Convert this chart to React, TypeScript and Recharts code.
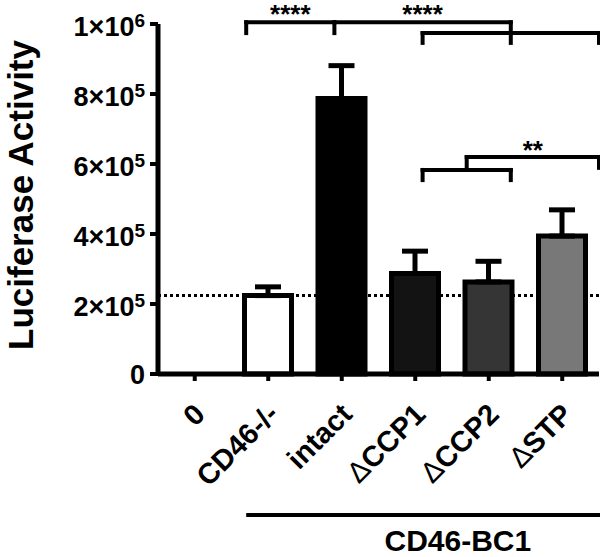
import {
  Bar,
  BarChart,
  Cell,
  ErrorBar,
  ReferenceDot,
  ReferenceLine,
  XAxis,
  YAxis,
} from "recharts"

// ─── Data ──────────────────────────────────────────────────────────────────

const categories = ["0", "CD46-/-", "intact", "ΔCCP1", "ΔCCP2", "ΔSTP"]
const means = [0, 224000, 787000, 287000, 263000, 394000]
const errUp = [0, 25000, 94000, 64000, 59000, 75000]

const yTicks = [0, 200000, 400000, 600000, 800000, 1000000]
const yTickBase = ["0", "2×10", "4×10", "6×10", "8×10", "1×10"]
const yTickExp = ["", "5", "5", "5", "5", "6"]

// significance marks: label, x (category index), y (value)
const sigLabels = ["****", "****", "**"]
const sigX = [1.5, 3, 4.25]
const sigY = [1045000, 1045000, 657000]

// bracket polylines in (category index, value) units
const brackets: [number, number][][] = [
  [[1, 974000], [1, 1005000], [2, 1005000], [2, 974000]],
  [[2, 1005000], [4, 1005000], [4, 946000]],
  [[3, 946000], [3, 974000], [5, 974000], [5, 946000]],
  [[3, 554000], [3, 583000], [4, 583000], [4, 554000]],
  [[3.5, 583000], [3.5, 620000], [5, 620000], [5, 589000]],
]

const groupLabel = "CD46-BC1"

const barFills = ["#ffffff", "#ffffff", "#000000", "#131313", "#353535", "#787878"]

const data = categories.map((name, i) => ({
  name,
  value: means[i],
  err: [0, errUp[i]],
}))

const FONT = "'Liberation Sans', Arial, Helvetica, sans-serif"

// ─── Ticks ─────────────────────────────────────────────────────────────────

function ValueTick(props: { x?: number; y?: number; payload?: { value: number } }) {
  const { x = 0, y = 0, payload } = props
  if (!payload) return null
  const i = yTicks.indexOf(payload.value)
  const exp = yTickExp[i]
  return (
    <text
      x={x}
      y={y}
      dy={exp ? 12 : 10}
      textAnchor="end"
      fontFamily={FONT}
      fontWeight="bold"
      fontSize={27}
      fill="#000"
    >
      {yTickBase[i]}
      {exp ? (
        <tspan dy={-9} fontSize={19}>
          {exp}
        </tspan>
      ) : null}
    </text>
  )
}

function CategoryTick(props: { x?: number; y?: number; payload?: { value: string } }) {
  const { x = 0, y = 0, payload } = props
  if (!payload) return null
  const label = payload.value
  const hasDelta = label.startsWith("Δ")
  return (
    <text
      transform={`translate(${x + 12},${y + 35}) rotate(-45)`}
      textAnchor="end"
      fontFamily={FONT}
      fontWeight="bold"
      fontSize={29}
      fill="#000"
    >
      {hasDelta ? (
        <>
          <tspan fontWeight="normal">Δ</tspan>
          {label.slice(1)}
        </>
      ) : (
        label
      )}
    </text>
  )
}

// ─── Chart ─────────────────────────────────────────────────────────────────

export default function App() {
  return (
    <div style={{ position: "absolute", left: 0, top: 0, background: "#fff" }}>
      <BarChart
        width={600}
        height={557}
        data={data}
        margin={{ top: 24, right: 1, bottom: 0, left: 0 }}
        barCategoryGap={0}
      >
        <XAxis
          dataKey="name"
          interval={0}
          height={183}
          tickSize={7}
          tickMargin={0}
          axisLine={{ stroke: "#000", strokeWidth: 5 }}
          tickLine={{ stroke: "#000", strokeWidth: 4 }}
          tick={<CategoryTick />}
        />
        <XAxis xAxisId="num" type="number" domain={[-0.5, 5.5]} hide />
        <YAxis
          width={158}
          domain={[0, 1000000]}
          ticks={yTicks}
          interval={0}
          tickSize={8}
          tickMargin={5}
          axisLine={{ stroke: "#000", strokeWidth: 5 }}
          tickLine={{ stroke: "#000", strokeWidth: 4 }}
          tick={<ValueTick />}
          label={{
            value: "Luciferase Activity",
            position: "insideLeft",
            content: () => (
              <text
                transform="translate(33,195) rotate(-90)"
                textAnchor="middle"
                fontFamily={FONT}
                fontWeight="bold"
                fontSize={35}
                fill="#000"
              >
                Luciferase Activity
              </text>
            ),
          }}
        />

        {/* dotted baseline at the CD46-/- level, kept behind the bars */}
        <ReferenceLine
          y={means[1]}
          stroke="#000"
          strokeWidth={3}
          strokeDasharray="3 3"
          zIndex={250}
        />

        <Bar dataKey="value" barSize={47} stroke="#000" strokeWidth={5} isAnimationActive={false}>
          {data.map((d, i) => (
            <Cell key={d.name} fill={barFills[i]} />
          ))}
          <ErrorBar
            dataKey="err"
            direction="y"
            width={13}
            stroke="#000"
            strokeWidth={5}
            isAnimationActive={false}
          />
        </Bar>

        {brackets.flatMap((pts, b) =>
          pts.slice(1).map((p, k) => (
            <ReferenceLine
              key={`br-${b}-${k}`}
              xAxisId="num"
              ifOverflow="visible"
              segment={[
                { x: pts[k][0], y: pts[k][1] },
                { x: p[0], y: p[1] },
              ]}
              stroke="#000"
              strokeWidth={4}
              strokeLinecap="square"
            />
          ))
        )}

        {sigLabels.map((s, i) => (
          <ReferenceDot
            key={`sig-${i}`}
            xAxisId="num"
            x={sigX[i]}
            y={sigY[i]}
            ifOverflow="visible"
            shape={(p: { cx?: number; cy?: number }) => (
              <text
                x={p.cx}
                y={p.cy}
                dy={15}
                textAnchor="middle"
                fontFamily={FONT}
                fontWeight="bold"
                fontSize={26}
                fill="#000"
              >
                {s}
              </text>
            )}
          />
        ))}

        {/* group bar under the CD46-BC1 conditions */}
        <ReferenceLine
          xAxisId="num"
          ifOverflow="visible"
          segment={[
            { x: 1, y: -403000 },
            { x: 5.5, y: -403000 },
          ]}
          stroke="#000"
          strokeWidth={4}
        />
        <ReferenceDot
          xAxisId="num"
          x={3.4}
          y={-505000}
          ifOverflow="visible"
          shape={(p: { cx?: number; cy?: number }) => (
            <text
              x={p.cx}
              y={p.cy}
              textAnchor="middle"
              fontFamily={FONT}
              fontWeight="bold"
              fontSize={30}
              fill="#000"
            >
              {groupLabel}
            </text>
          )}
        />
      </BarChart>
    </div>
  )
}
